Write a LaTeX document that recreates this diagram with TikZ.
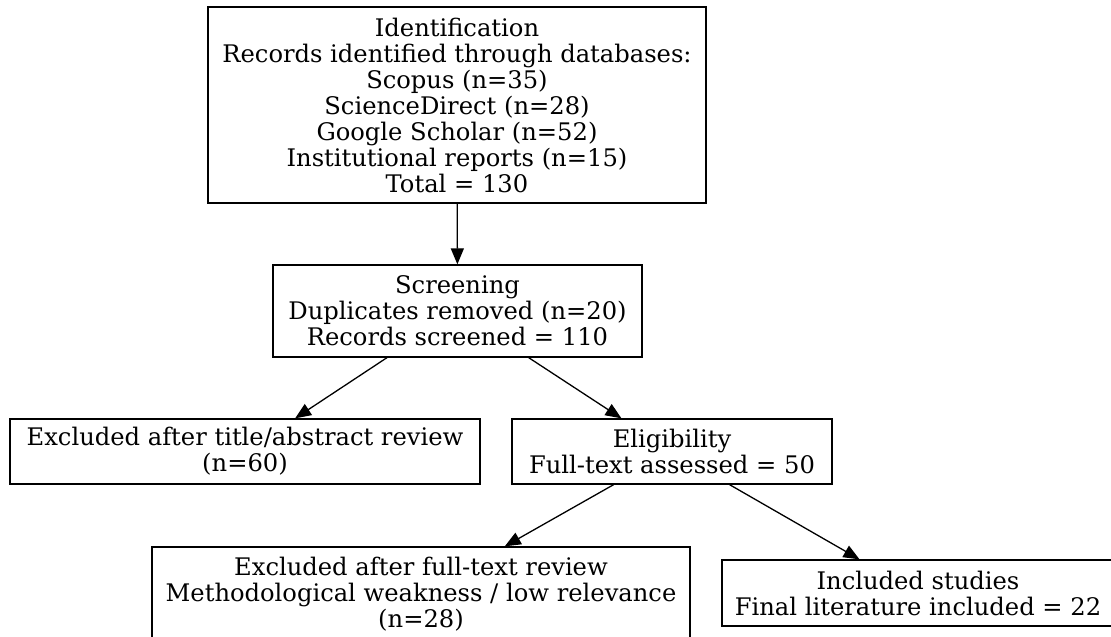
\documentclass[tikz,border=0pt]{standalone}
\usepackage{fontspec}
\setmainfont{DejaVu Serif}
\usetikzlibrary{arrows.meta}
\begin{document}
\begin{tikzpicture}[x=1pt,y=-1pt,
  box/.style={draw=black, line width=1.3pt, rectangle, inner sep=0pt, align=center,
    font=\fontsize{24.2}{26}\selectfont},
  link/.style={draw=black, line width=1.3pt, -{Triangle[length=16pt,width=13pt]}}]
\useasboundingbox (0,0) rectangle (1111,637);
\node[box, minimum width=498pt, minimum height=196pt] (ident) at (457,105)
  {Identification\\Records identified through databases:\\Scopus (n=35)\\ScienceDirect (n=28)\\Google Scholar (n=52)\\Institutional reports (n=15)\\Total = 130};
\node[box, minimum width=369pt, minimum height=92pt] (screen) at (457.5,311)
  {Screening\\Duplicates removed (n=20)\\Records screened = 110};
\node[box, minimum width=470pt, minimum height=65pt] (excl1) at (245,451.5)
  {Excluded after title/abstract review\\(n=60)};
\node[box, minimum width=320pt, minimum height=65pt] (elig) at (672,451.5)
  {Eligibility\\Full-text assessed = 50};
\node[box, minimum width=538pt, minimum height=94pt] (excl2) at (421,594)
  {Excluded after full-text review\\Methodological weakness / low relevance\\(n=28)};
\node[box, minimum width=392pt, minimum height=66pt] (incl) at (918,593)
  {Included studies\\Final literature included = 22};
\draw[link] (ident) -- (screen);
\draw[link] (screen) -- (excl1);
\draw[link] (screen) -- (elig);
\draw[link] (elig) -- (excl2);
\draw[link] (elig) -- (incl);
\end{tikzpicture}
\end{document}
